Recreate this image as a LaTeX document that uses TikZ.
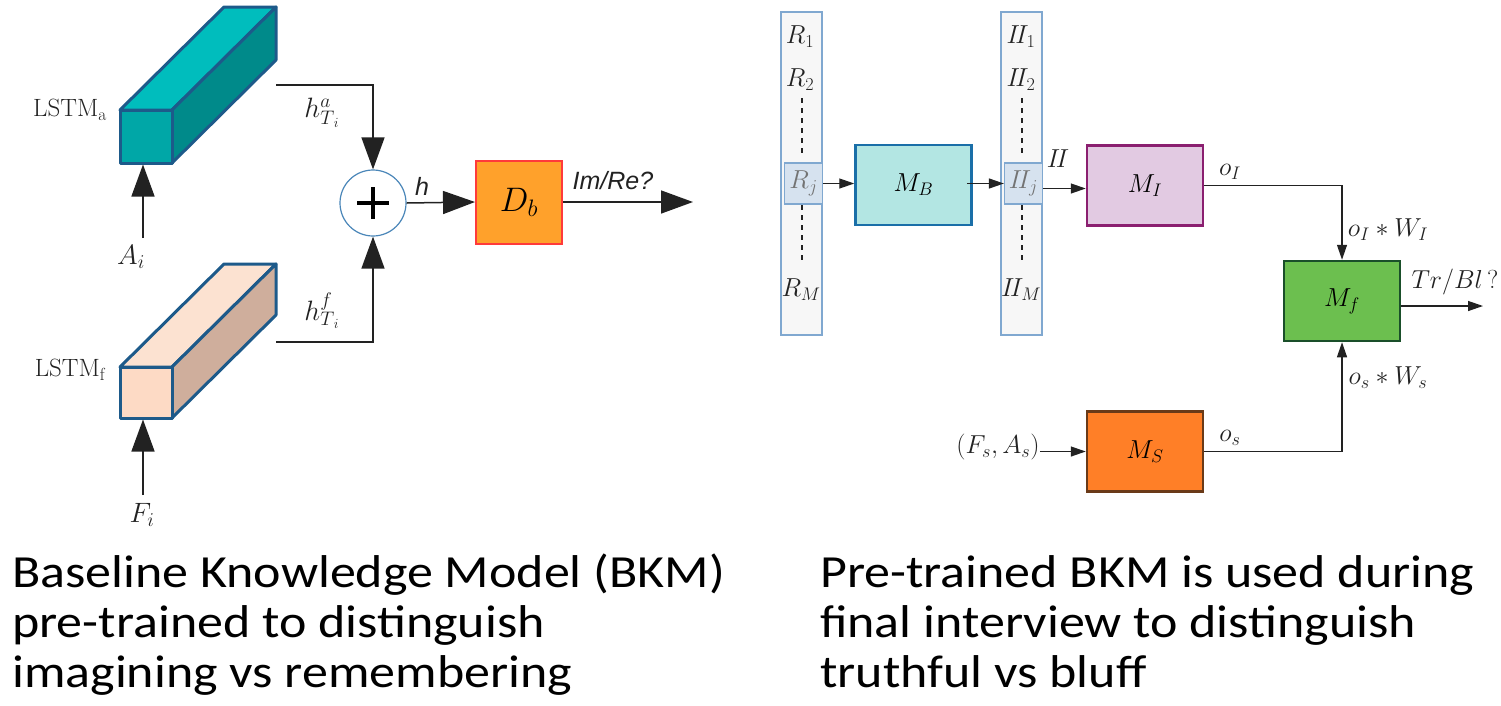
\documentclass[tikz,border=0pt]{standalone}
\usepackage{fix-cm}
\usepackage{fontspec}
\newfontfamily\calib[FakeStretch=1.13]{Carlito}
\newfontfamily\arial{Liberation Sans}
\usetikzlibrary{arrows.meta}
\definecolor{edgeblue}{HTML}{1D5A8A}
\definecolor{tealfront}{HTML}{00A7A7}
\definecolor{tealtop}{HTML}{00BDBD}
\definecolor{tealside}{HTML}{008A8A}
\definecolor{peachfront}{HTML}{FDDAC5}
\definecolor{peachtop}{HTML}{FCE2D1}
\definecolor{peachside}{HTML}{CFAE9C}
\definecolor{circblue}{HTML}{4A86B8}
\definecolor{dbfill}{HTML}{FFA12B}
\definecolor{dbedge}{HTML}{FF3A3A}
\definecolor{colfill}{HTML}{F7F7F7}
\definecolor{coledge}{HTML}{80A8D0}
\definecolor{hifill}{HTML}{D6E2EF}
\definecolor{mbfill}{HTML}{B3E6E3}
\definecolor{mbedge}{HTML}{1A6FA8}
\definecolor{mifill}{HTML}{E2CAE2}
\definecolor{miedge}{HTML}{8B1F70}
\definecolor{mffill}{HTML}{6CBF4F}
\definecolor{mfedge}{HTML}{1A4F2A}
\definecolor{msfill}{HTML}{FF7F27}
\definecolor{msedge}{HTML}{6A3A18}
\definecolor{ink}{HTML}{222222}
\tikzset{
  bigarrow/.style={-{Triangle[length=32pt,width=23pt]}, line width=1.5pt, draw=ink},
  smallarrow/.style={-{Triangle[length=15pt,width=10pt]}, line width=1.3pt, draw=ink},
  cub/.style={draw=edgeblue, line width=3pt, line join=round},
  lbl/.style={font=\fontsize{26}{30}\selectfont, inner sep=0pt, text=ink},
  biglbl/.style={font=\fontsize{28}{32}\selectfont, inner sep=0pt, text=ink},
  lstmlbl/.style={font=\fontsize{25}{30}\selectfont, inner sep=0pt, text=ink},
  sanslbl/.style={font=\arial\itshape\fontsize{25}{29}\selectfont, inner sep=0pt, text=ink},
  bottomtxt/.style={font=\calib\fontsize{46}{50}\selectfont, inner sep=0pt, anchor=base west},
  blockbox/.style={draw, line width=2.5pt, minimum width=116pt, minimum height=80pt, inner sep=0pt, font=\fontsize{26}{30}\selectfont},
  column/.style={draw=coledge, fill=colfill, line width=1.5pt, minimum width=41pt, minimum height=323pt, inner sep=0pt},
  hibox/.style={draw=coledge, fill=hifill, line width=1.3pt, minimum width=38pt, minimum height=41pt, inner sep=0pt, font=\fontsize{26}{30}\selectfont, text=black!55},
  dots/.style={dashed, dash pattern=on 5pt off 5pt, line width=1.2pt, draw=ink}
}
\begin{document}
\begin{tikzpicture}[x=1pt,y=-1pt]
\useasboundingbox (0,0) rectangle (1501,705);

% ---------- LSTM_a cuboid ----------
\filldraw[cub, fill=tealtop] (120,110) -- (172,110) -- (276,7) -- (224,7) -- cycle;
\filldraw[cub, fill=tealside] (172,110) -- (276,7) -- (276,60) -- (172,163) -- cycle;
\node[cub, fill=tealfront, minimum width=52pt, minimum height=53pt, inner sep=0pt] (lstmA) at (146,136.5) {};
\node[lstmlbl] (lstmAlbl) at (70,110) {$\mathrm{LSTM}_{\mathrm{a}}$};

% ---------- LSTM_f cuboid ----------
\filldraw[cub, fill=peachtop] (120,367) -- (172,367) -- (276,264) -- (224,264) -- cycle;
\filldraw[cub, fill=peachside] (172,367) -- (276,264) -- (276,315) -- (172,418) -- cycle;
\node[cub, fill=peachfront, minimum width=52pt, minimum height=51pt, inner sep=0pt] (lstmF) at (146,392.5) {};
\node[lstmlbl] (lstmFlbl) at (70,370) {$\mathrm{LSTM}_{\mathrm{f}}$};

% inputs
\node[biglbl] (Ai) at (131,257) {$A_i$};
\node[biglbl] (Fi) at (142,515) {$F_i$};
\coordinate (aiarr) at (143,238);
\coordinate (fiarr) at (143,495);
\draw[bigarrow] (aiarr) -- (aiarr |- lstmA.south);
\draw[bigarrow] (fiarr) -- (fiarr |- lstmF.south);

% sum
\node[circle, draw=circblue, line width=1.2pt, minimum size=66pt, inner sep=0pt] (plus) at (373,203) {};
\draw[line width=4.5pt, draw=black] ([xshift=-16pt]plus.center) -- ([xshift=16pt]plus.center);
\draw[line width=4.5pt, draw=black] ([yshift=-16pt]plus.center) -- ([yshift=16pt]plus.center);

\coordinate (aout) at (276,85);
\coordinate (fout) at (276,342);
\draw[bigarrow] (aout) -| (plus.north);
\draw[bigarrow] (fout) -| (plus.south);
\node[biglbl] (hA) at (322,113) {$h^{a}_{T_{\,i}}$};
\node[biglbl] (hF) at (322,311) {$h^{f}_{T_{\,i}}$};

% D_b
\node[draw=dbedge, fill=dbfill, line width=2pt, minimum width=86pt, minimum height=83pt, inner sep=0pt, font=\fontsize{34}{38}\selectfont] (Db) at (519,202) {$D_b$};
\draw[bigarrow] (plus.east) -- (Db.west);
\node[sanslbl] (hlbl) at (422,186) {h};
\coordinate (dbout) at (693,202);
\draw[bigarrow] (Db.east) -- (dbout);
\node[sanslbl] (imre) at (613,181) {Im/Re?};

% ---------- right diagram ----------
\node[column] (colR) at (801.5,173.5) {};
\node[column] (colII) at (1021.5,173.5) {};
\node[lbl] (R1) at (800,37) {$R_1$};
\node[lbl] (R2) at (800,80) {$R_2$};
\node[hibox] (Rj) at (803.5,183.5) {$R_j$};
\node[lbl] (RM) at (801,290) {$R_M$};
\draw[dots] (802,98) -- (802,157);
\draw[dots] (802,205) -- (802,260);
\node[lbl] (II1) at (1021,37) {$I\!I_1$};
\node[lbl] (II2) at (1021,80) {$I\!I_2$};
\node[hibox] (IIj) at (1023.5,183.5) {$I\!I_j$};
\node[lbl] (IIM) at (1021,290) {$I\!I_M$};
\draw[dots] (1022,98) -- (1022,157);
\draw[dots] (1022,205) -- (1022,260);

\node[blockbox, draw=mbedge, fill=mbfill] (MB) at (913.5,185) {$M_B$};
\node[blockbox, draw=miedge, fill=mifill] (MI) at (1145,185.5) {$M_I$};
\node[blockbox, draw=mfedge, fill=mffill] (Mf) at (1342,301) {$M_f$};
\node[blockbox, draw=msedge, fill=msfill] (MS) at (1145,451.5) {$M_S$};

\draw[smallarrow] (Rj.east) -- (Rj.east -| MB.west);
\draw[smallarrow] ([xshift=-6pt]MB.east |- Rj.east) -- (IIj.west);
\draw[smallarrow] ([yshift=-5pt]IIj.east) -- ([yshift=-5pt]IIj.east -| MI.west);
\node[lbl] (IIlbl) at (1058,159) {$I\!I$};

\draw[smallarrow] (MI.east) -| (Mf.north);
\draw[smallarrow] (MS.east) -| (Mf.south);
\node[lbl] (oI) at (1230,172) {$o_I$};
\node[lbl] (oIWI) at (1388,230) {$o_I \ast W_I$};
\node[lbl] (os) at (1230,438) {$o_s$};
\node[lbl] (osWs) at (1388,378) {$o_s \ast W_s$};

\coordinate (tbout) at (1483,306);
\draw[smallarrow] (Mf.east |- tbout) -- (tbout);
\node[lbl] (trbl) at (1455,282) {$Tr/Bl\,?$};

\node[lbl] (FsAs) at (998,447) {$\left(F_s,A_s\right)$};
\draw[smallarrow] (FsAs.east |- MS.west) -- (MS.west);

% ---------- captions ----------
\node[bottomtxt] (t1a) at (12,587) {Baseline Knowledge Model (BKM)};
\node[bottomtxt] (t1b) at (12,637) {pre-trained to distinguish};
\node[bottomtxt] (t1c) at (12,687) {imagining vs remembering};
\node[bottomtxt] (t2a) at (820,587) {Pre-trained BKM is used during};
\node[bottomtxt] (t2b) at (820,637) {final interview to distinguish};
\node[bottomtxt] (t2c) at (820,687) {truthful vs bluff};
\end{tikzpicture}
\end{document}
